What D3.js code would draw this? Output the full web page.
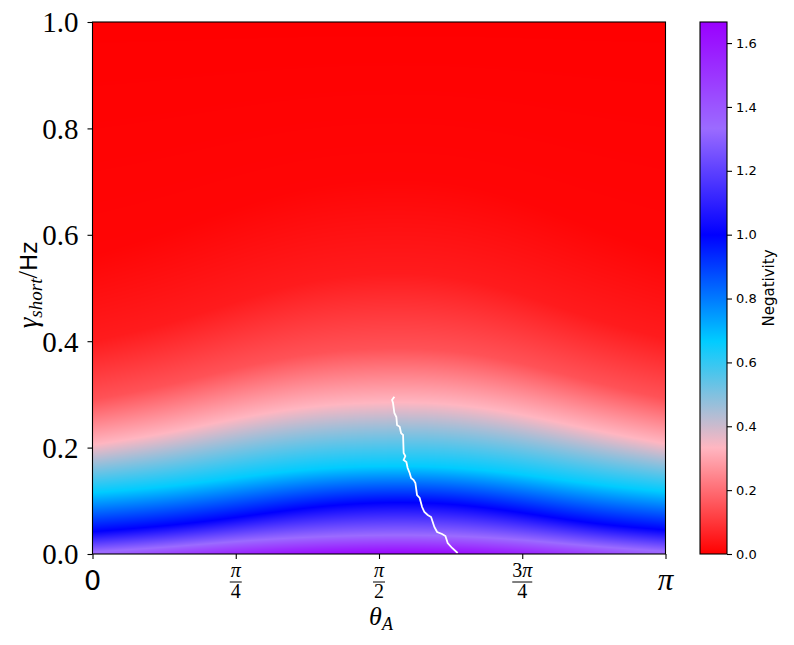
<!DOCTYPE html>
<html><head><meta charset="utf-8">
<script src="https://cdn.jsdelivr.net/npm/d3@7"></script>
<style>
html,body{margin:0;padding:0;background:#fff;}
svg{display:block;}
</style></head>
<body>
<svg id="chart" width="794" height="645"></svg>
<script>
// ---------- data ----------
// theta columns as fractions of pi
const thetaCols = [0, 0.125, 0.25, 0.375, 0.5, 0.625, 0.75, 0.875, 1];
// negativity at gamma = 0 for each column
const negAtZero = [1.34, 1.46, 1.56, 1.63, 1.66, 1.65, 1.58, 1.47, 1.35];
// contour levels and the gamma (Hz) where each level is reached, per column
const levelValues = [1.333, 1.0, 0.666, 0.333, 0.15, 0.05, 0.01, 0.0];
const gammaLvl1333 = [0.004, 0.012, 0.024, 0.032, 0.036, 0.035, 0.027, 0.014, 0.005];
const gammaLvl1000 = [0.042, 0.052, 0.068, 0.088, 0.098, 0.096, 0.078, 0.056, 0.045];
const gammaLvl0666 = [0.115, 0.125, 0.143, 0.160, 0.166, 0.164, 0.150, 0.130, 0.117];
const gammaLvl0333 = [0.205, 0.225, 0.255, 0.278, 0.286, 0.284, 0.263, 0.232, 0.207];
const gammaLvl0150 = [0.290, 0.315, 0.350, 0.378, 0.388, 0.385, 0.360, 0.322, 0.292];
const gammaLvl0050 = [0.400, 0.430, 0.475, 0.515, 0.530, 0.525, 0.490, 0.440, 0.405];
const gammaLvl0010 = [0.560, 0.600, 0.650, 0.690, 0.705, 0.700, 0.665, 0.610, 0.565];
const gammaLvl0000 = [1.0, 1.0, 1.0, 1.0, 1.0, 1.0, 1.0, 1.0, 1.0];
// white line: (theta/pi, gamma)
const lineTheta = [0.5268,0.5228,0.5245,0.5268,0.5303,0.5315,0.5361,0.5385,0.5420,0.5430,0.5460,0.5430,0.5478,0.5500,0.5535,0.5560,0.5605,0.5635,0.5664,0.5710,0.5752,0.5792,0.5850,0.5909,0.5966,0.6014,0.6101,0.6159,0.6199,0.6276,0.6373];
const lineGamma = [0.2957,0.2895,0.2838,0.2650,0.2575,0.2425,0.2393,0.2274,0.2237,0.1898,0.1842,0.1767,0.1729,0.1617,0.1523,0.1429,0.1391,0.1335,0.1109,0.1053,0.0883,0.0789,0.0733,0.0695,0.0508,0.0414,0.0376,0.0338,0.0207,0.0113,0.0019];
// ticks
const yTicks = [0, 0.2, 0.4, 0.6, 0.8, 1.0];
const xTickNum = ["0", "\u03C0", "\u03C0", "3\u03C0", "\u03C0"];
const xTickDen = [null, "4", "2", "4", null];
const xTickVals = [0, 0.25, 0.5, 0.75, 1];
const cbTicks = [0, 0.2, 0.4, 0.6, 0.8, 1.0, 1.2, 1.4, 1.6];
const cmapColors = ["#ff0000", "#ffb6c1", "#00ccff", "#0000ff", "#9b6bff", "#9a00ff"];
const vMax = 1.666;

// ---------- layout ----------
const L = 92.5, R = 665.5, T = 22, B = 554;
const cbL = 700, cbR = 727;
const svg = d3.select("#chart");
const x = d3.scaleLinear().domain([0, Math.PI]).range([L, R]);
const y = d3.scaleLinear().domain([0, 1]).range([B, T]);
const color = d3.scaleLinear()
  .domain(cmapColors.map((c, i) => i * vMax / (cmapColors.length - 1)))
  .range(cmapColors).clamp(true);

// ---------- heatmap ----------
const W = Math.round(R - L), H = Math.round(B - T);
const canvas = document.createElement("canvas");
canvas.width = W; canvas.height = H;
const ctx = canvas.getContext("2d");
const img = ctx.createImageData(W, H);
const lvlArrays = [gammaLvl1333, gammaLvl1000, gammaLvl0666, gammaLvl0333, gammaLvl0150, gammaLvl0050, gammaLvl0010, gammaLvl0000];
const zeroInterp = d3.interpolateBasis(negAtZero);
const lvlInterps = lvlArrays.map(a => d3.interpolateBasis(a));
for (let i = 0; i < W; i++) {
  const tf = (i + 0.5) / W; // fraction of pi
  const gs = [0], vs = [zeroInterp(tf)];
  lvlInterps.forEach((f, k) => {
    let g = f(tf);
    if (g <= gs[gs.length - 1]) g = gs[gs.length - 1] + 1e-4;
    gs.push(g); vs.push(levelValues[k]);
  });
  const vg = d3.scaleLinear().domain(gs).range(vs).clamp(true);
  for (let j = 0; j < H; j++) {
    const g = y.invert(T + j + 0.5);
    const c = d3.rgb(color(vg(g)));
    const p = (j * W + i) * 4;
    img.data[p] = c.r; img.data[p + 1] = c.g; img.data[p + 2] = c.b; img.data[p + 3] = 255;
  }
}
ctx.putImageData(img, 0, 0);
svg.append("image").attr("x", L).attr("y", T).attr("width", W).attr("height", H)
  .attr("preserveAspectRatio", "none").attr("href", canvas.toDataURL());

// ---------- white line ----------
const lineData = lineTheta.map((t, i) => [t * Math.PI, lineGamma[i]]);
svg.append("path").datum(lineData)
  .attr("d", d3.line().x(d => x(d[0])).y(d => y(d[1])))
  .attr("fill", "none").attr("stroke", "#fff").attr("stroke-width", 1.8);

// ---------- frame & axes ----------
svg.append("rect").attr("x", L).attr("y", T).attr("width", R - L).attr("height", B - T)
  .attr("fill", "none").attr("stroke", "#000").attr("stroke-width", 1.1);

const serif = "'Liberation Serif','DejaVu Serif',serif";
const yAxis = svg.append("g").attr("transform", `translate(${L},0)`)
  .call(d3.axisLeft(y).tickValues(yTicks).tickSize(5).tickPadding(9).tickFormat(d3.format(".1f")));
yAxis.select(".domain").remove();
yAxis.selectAll("line").attr("stroke-width", 1.1);
yAxis.selectAll("text").attr("font-family", serif).attr("font-size", 29).attr("dy", "0.34em").attr("fill", "#000");

const xAxis = svg.append("g").attr("transform", `translate(0,${B})`)
  .call(d3.axisBottom(x).tickValues(xTickVals.map(v => v * Math.PI)).tickSize(5).tickFormat(""));
xAxis.select(".domain").remove();
xAxis.selectAll("line").attr("stroke-width", 1.1);

xTickVals.forEach((v, i) => {
  const cx = x(v * Math.PI);
  if (xTickDen[i] === null) {
    const isZero = xTickNum[i] === "0";
    svg.append("text").attr("x", cx).attr("y", 590).attr("text-anchor", "middle")
      .attr("font-family", isZero ? "'DejaVu Sans',sans-serif" : serif)
      .attr("font-style", isZero ? "normal" : "italic")
      .attr("font-size", isZero ? 27 : 31).text(xTickNum[i]);
  } else {
    svg.append("text").attr("x", cx).attr("y", 577).attr("text-anchor", "middle")
      .attr("font-family", serif).attr("font-size", 20)
      .selectAll("tspan").data(xTickNum[i].split("")).join("tspan")
      .attr("font-style", d => d === "\u03C0" ? "italic" : "normal").text(d => d);
    const w = xTickNum[i].length > 1 ? 20 : 12;
    svg.append("line").attr("x1", cx - w / 2).attr("x2", cx + w / 2).attr("y1", 582).attr("y2", 582)
      .attr("stroke", "#000").attr("stroke-width", 1);
    svg.append("text").attr("x", cx).attr("y", 598).attr("text-anchor", "middle")
      .attr("font-family", serif).attr("font-size", 20).text(xTickDen[i]);
  }
});

// x label
const xl = svg.append("text").attr("x", 381).attr("y", 625).attr("text-anchor", "middle")
  .attr("font-family", serif).attr("font-size", 26);
xl.append("tspan").attr("font-style", "italic").text("\u03B8");
xl.append("tspan").attr("font-style", "italic").attr("font-size", 18).attr("dy", 5).text("A");

// y label
const yl = svg.append("text").attr("transform", "translate(37,285) rotate(-90)")
  .attr("text-anchor", "middle").attr("font-family", serif).attr("font-size", 27);
yl.append("tspan").attr("font-style", "italic").text("\u03B3");
yl.append("tspan").attr("font-style", "italic").attr("font-size", 19).attr("dy", 5).text("short");
yl.append("tspan").attr("dy", -5).text("/");
yl.append("tspan").attr("font-family", "'DejaVu Sans',sans-serif").attr("font-size", 23).text("Hz");

// ---------- colorbar ----------
const cy = d3.scaleLinear().domain([0, vMax]).range([B, T]);
const defs = svg.append("defs");
const grad = defs.append("linearGradient").attr("id", "cb").attr("x1", 0).attr("y1", 1).attr("x2", 0).attr("y2", 0);
d3.range(0, 1.0001, 0.02).forEach(f => {
  grad.append("stop").attr("offset", f).attr("stop-color", color(f * vMax));
});
svg.append("rect").attr("x", cbL).attr("y", T).attr("width", cbR - cbL).attr("height", B - T)
  .attr("fill", "url(#cb)").attr("stroke", "#000").attr("stroke-width", 1.1);
const cAxis = svg.append("g").attr("transform", `translate(${cbR},0)`)
  .call(d3.axisRight(cy).tickValues(cbTicks).tickSize(5).tickPadding(4).tickFormat(d3.format(".1f")));
cAxis.select(".domain").remove();
cAxis.selectAll("line").attr("stroke-width", 1.1);
cAxis.selectAll("text").attr("font-family", "'DejaVu Sans',sans-serif").attr("font-size", 13).attr("fill", "#000");
svg.append("text").attr("transform", "translate(774,288) rotate(-90)").attr("text-anchor", "middle")
  .attr("font-family", "'DejaVu Sans',sans-serif").attr("font-size", 15).text("Negativity");
</script>
</body></html>
